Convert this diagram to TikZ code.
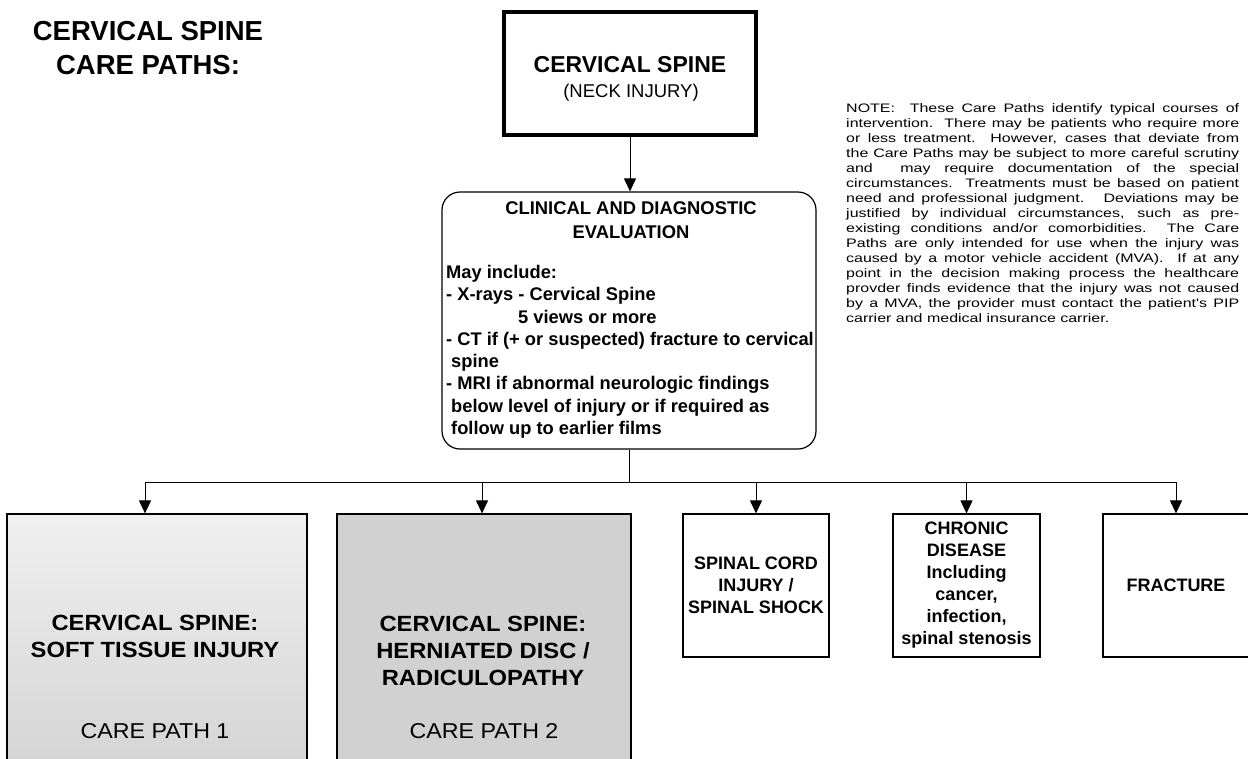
\documentclass[tikz,border=0pt]{standalone}
\usepackage{fontspec}
\setmainfont{Liberation Sans}
\newfontfamily\notefont[FakeStretch=1.3]{Liberation Sans}
\newfontfamily\shadefont[FakeStretch=1.08]{Liberation Sans}
\usetikzlibrary{arrows.meta}
\newcommand{\nl}[1]{\hbox to 393pt{#1}}
\begin{document}
\begin{tikzpicture}[x=1pt,y=-1pt,
  conn/.style={line width=1pt},
  arr/.style={conn,-{Triangle[width=12pt,length=13pt]}},
  plainbox/.style={draw, line width=1.2pt, minimum width=146pt, minimum height=143pt,
    inner sep=0pt, align=center, font=\fontsize{18}{22}\selectfont\bfseries},
  shadebox/.style={draw, line width=1.2pt, minimum height=260pt, inner sep=0pt},
  shadetext/.style={inner sep=0pt, align=center, font=\shadefont\fontsize{22}{27}\selectfont\bfseries},
  pathtext/.style={inner sep=0pt, font=\shadefont\fontsize{21.5}{26}\selectfont}
]
\useasboundingbox (0,0) rectangle (1248,758);

% title
\node[font=\fontsize{27.5}{33.5}\selectfont\bfseries, align=center, inner sep=0pt] (title) at (148,48) {CERVICAL SPINE\\CARE PATHS:};

% top box
\node[draw, line width=4pt, minimum width=252pt, minimum height=123pt] (top) at (630,73.5) {};
\node[font=\fontsize{23}{25}\selectfont\bfseries, inner sep=0pt] (toptitle) at (630,65) {CERVICAL SPINE};
\node[font=\fontsize{18.5}{21}\selectfont, inner sep=0pt] (topsub) at (631,93) {(NECK INJURY)};

% evaluation box
\node[draw, line width=1.2pt, rounded corners=18pt, minimum width=374pt, minimum height=257pt] (eval) at (629,320.5) {};
\node[font=\fontsize{18.4}{24}\selectfont\bfseries, align=center, inner sep=0pt] (evalhead) at (631,220) {CLINICAL AND DIAGNOSTIC\\EVALUATION};
\node[font=\fontsize{18.3}{22.3}\selectfont\bfseries, align=left, anchor=north west, inner sep=0pt] (evallist) at (446,265)
 {May include:\\
  - X-rays - Cervical Spine\\
  \hspace*{72pt}5 views or more\\
  - CT if (+ or suspected) fracture to cervical\\
  \hspace*{5pt}spine\\
  - MRI if abnormal neurologic findings\\
  \hspace*{5pt}below level of injury or if required as\\
  \hspace*{5pt}follow up to earlier films};

% note
\node[anchor=north west, inner sep=0pt] (note) at (846,103) {\parbox{393pt}{\notefont\fontsize{12.3}{15}\selectfont\hbadness=10000\hfuzz=20pt\baselineskip=15pt
 \nl{NOTE:\ \ These Care Paths identify typical courses of}
 \nl{intervention.\ \ There may be patients who require more}
 \nl{or less treatment.\ \ However, cases that deviate from}
 \nl{the Care Paths may be subject to more careful scrutiny}
 \nl{and\ \ may require documentation of the special}
 \nl{circumstances.\ \ Treatments must be based on patient}
 \nl{need and professional judgment.\ \ \ Deviations may be}
 \nl{justified by individual circumstances, such as pre-}
 \nl{existing conditions and/or comorbidities.\ \ The Care}
 \nl{Paths are only intended for use when the injury was}
 \nl{caused by a motor vehicle accident (MVA).\ \ If at any}
 \nl{point in the decision making process the healthcare}
 \nl{provder finds evidence that the injury was not caused}
 \nl{by a MVA, the provider must contact the patient's PIP}
 \hbox{carrier and medical insurance carrier.}}};

% bottom boxes
\node[shadebox, minimum width=300pt, top color=gray!12, bottom color=gray!34] (b1) at (157,644) {};
\node[shadebox, minimum width=294pt, fill=gray!36] (b2) at (484,644) {};
\node[plainbox] (b3) at (756,585.5) {SPINAL CORD\\INJURY /\\SPINAL SHOCK};
\node[plainbox, minimum width=147pt] (b4) at (966.5,585.5) {CHRONIC\\DISEASE\\Including\\cancer,\\infection,\\spinal stenosis};
\node[plainbox] (b5) at (1176,585.5) {FRACTURE};

\node[shadetext] (b1t) at (155,636.5) {CERVICAL SPINE:\\SOFT TISSUE INJURY};
\node[pathtext] (b1p) at (155,731) {CARE PATH 1};
\node[shadetext] (b2t) at (483,651) {CERVICAL SPINE:\\HERNIATED DISC /\\RADICULOPATHY};
\node[pathtext] (b2p) at (484,731) {CARE PATH 2};

% connectors
\coordinate (split) at (629,482);
\draw[arr] (top.south) -- (top.south |- eval.north);
\draw[conn] (eval.south) -- (split);
\draw[arr] (split) -| ([xshift=-12pt]b1.north);
\draw[arr] (split) -| ([xshift=-2pt]b2.north);
\draw[arr] (split) -| (b3.north);
\draw[arr] (split) -| (b4.north);
\draw[arr] (split) -| (b5.north);
\end{tikzpicture}
\end{document}
